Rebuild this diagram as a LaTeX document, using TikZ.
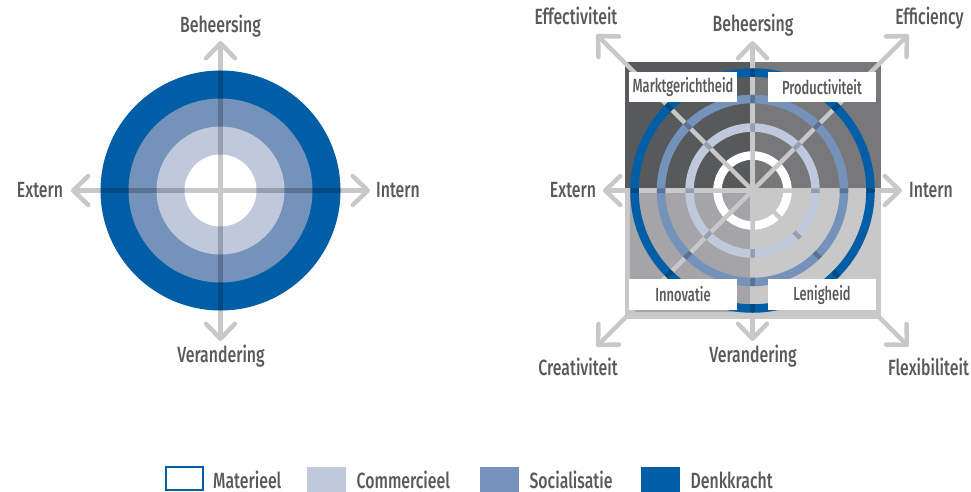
\documentclass[tikz,border=0pt]{standalone}
\usepackage{fontspec}
\setmainfont{Fira Sans}[FakeStretch=0.72, UprightFont=* Medium]
\newfontfamily\boxfont{Fira Sans}[FakeStretch=0.68, UprightFont=* Medium]
\usetikzlibrary{arrows.meta}

\definecolor{denk}{HTML}{005EA6}
\definecolor{soc}{HTML}{7592BB}
\definecolor{comm}{HTML}{C0C9DC}
\definecolor{lgray}{HTML}{C8C8C8}
\definecolor{tgray}{HTML}{58595B}
\definecolor{qTL}{HTML}{58595B}
\definecolor{qTR}{HTML}{78787A}
\definecolor{qBL}{HTML}{A5A5A7}
\definecolor{qBR}{HTML}{C8C8C8}

\tikzset{
  axis/.style={draw=lgray, line width=4.5pt, -{Straight Barb[length=15pt,width=29pt,round]}},
  dirtext/.style={text=tgray, font=\fontsize{22}{26}\selectfont, inner sep=0pt, anchor=base},
  ring/.style={line width=8.5pt},
  quadbox/.style={fill=white, text=tgray, font=\boxfont\fontsize{19}{22}\selectfont,
    minimum width=108pt, minimum height=30.5pt, inner sep=0pt},
  legbox/.style={minimum width=39pt, minimum height=25pt, inner sep=0pt, anchor=south west},
}

\begin{document}
\begin{tikzpicture}[x=1pt, y=-1pt]
    \useasboundingbox (0,0) rectangle (971,492);

    % left: Beheersing / Verandering, Extern / Intern
    \coordinate (lC) at (220.5,190.5);
    \coordinate (lN) at (220.5,41);
    \coordinate (lS) at (220.5,341);
    \coordinate (lW) at (71,190.5);
    \coordinate (lE) at (370,190.5);
    \foreach \t in {lN,lS,lW,lE} \draw[axis] (lC) -- (\t);
    \fill[denk] (lC) circle (120);
    \fill[soc] (lC) circle (92);
    \fill[comm] (lC) circle (64);
    \fill[white] (lC) circle (36);
    \begin{scope}
        \clip (lC) circle (120);
        \draw[lgray, line width=4.5pt, blend mode=multiply] (lN) -- (lS) (lW) -- (lE);
    \end{scope}
    \node[dirtext] (lbN) at (220.5,33) {Beheersing};
    \node[dirtext] (lbS) at (221,362) {Verandering};
    \node[dirtext] (lbW) at (40,197) {Extern};
    \node[dirtext] (lbE) at (398,197) {Intern};

    % right: quadrants with rings
    \coordinate (rC) at (752.5,190.5);
    \fill[qBR] (624.5,62.5) rectangle (880.5,318.5);
    \fill[qTL] (624.5,62.5) rectangle (rC);
    \fill[qTR] (880.5,62.5) rectangle (rC);
    \fill[qBL] (629.5,311.5) rectangle (rC);
    \coordinate (rN) at (752.5,41);
    \coordinate (rS) at (752.5,341);
    \coordinate (rW) at (603,190.5);
    \coordinate (rE) at (902,190.5);
    \coordinate (rNW) at (596.5,34.5);
    \coordinate (rNE) at (908.5,34.5);
    \coordinate (rSW) at (596.5,346.5);
    \coordinate (rSE) at (908.5,346.5);
    \foreach \t in {rN,rS,rW,rE,rNW,rNE,rSW,rSE} \draw[axis] (rC) -- (\t);
    \draw[ring, white] (rC) circle (35);
    \draw[ring, comm] (rC) circle (63);
    \draw[ring, soc] (rC) circle (91.5);
    \draw[ring, denk] (rC) circle (118);
    \begin{scope}[even odd rule]
        \clip (rC) circle (122.25) (rC) circle (113.75)
            (rC) circle (95.75) (rC) circle (87.25)
            (rC) circle (67.25) (rC) circle (58.75)
            (rC) circle (39.25) (rC) circle (30.75);
        \draw[lgray, line width=4.5pt, blend mode=multiply]
            (rN) -- (rS) (rW) -- (rE) (rNW) -- (rSE) (rNE) -- (rSW);
    \end{scope}
    \node[quadbox] (qMark) at (683,87) {Marktgerichtheid};
    \node[quadbox] (qProd) at (822,87) {Productiviteit};
    \node[quadbox] (qInno) at (683,294.5) {Innovatie};
    \node[quadbox] (qLeni) at (822,294.5) {Lenigheid};

    \node[dirtext] (rbNW) at (576,25) {Effectiviteit};
    \node[dirtext] (rbN) at (753,32) {Beheersing};
    \node[dirtext] (rbNE) at (929.5,25) {Efficiency};
    \node[dirtext] (rbW) at (573,197) {Extern};
    \node[dirtext] (rbE) at (931,197) {Intern};
    \node[dirtext] (rbSW) at (578,375) {Creativiteit};
    \node[dirtext] (rbS) at (753,362) {Verandering};
    \node[dirtext] (rbSE) at (928.5,375) {Flexibiliteit};

    % legend
    \node[legbox, draw=denk, line width=2pt, fill=white, minimum width=37pt, minimum height=23pt]
        (box1) at (165,491) {};
    \node[dirtext, anchor=base west] (txt1) at (213,488) {Materieel};
    \foreach \x/\c/\t/\i in {307/comm/Commercieel/2, 480/soc/Socialisatie/3, 641/denk/Denkkracht/4} {
        \node[legbox, fill=\c] (box\i) at (\x,492) {};
        \node[dirtext, anchor=base west] (txt\i) at ([xshift=10pt, yshift=4pt]box\i.south east) {\t};
    }
\end{tikzpicture}
\end{document}
